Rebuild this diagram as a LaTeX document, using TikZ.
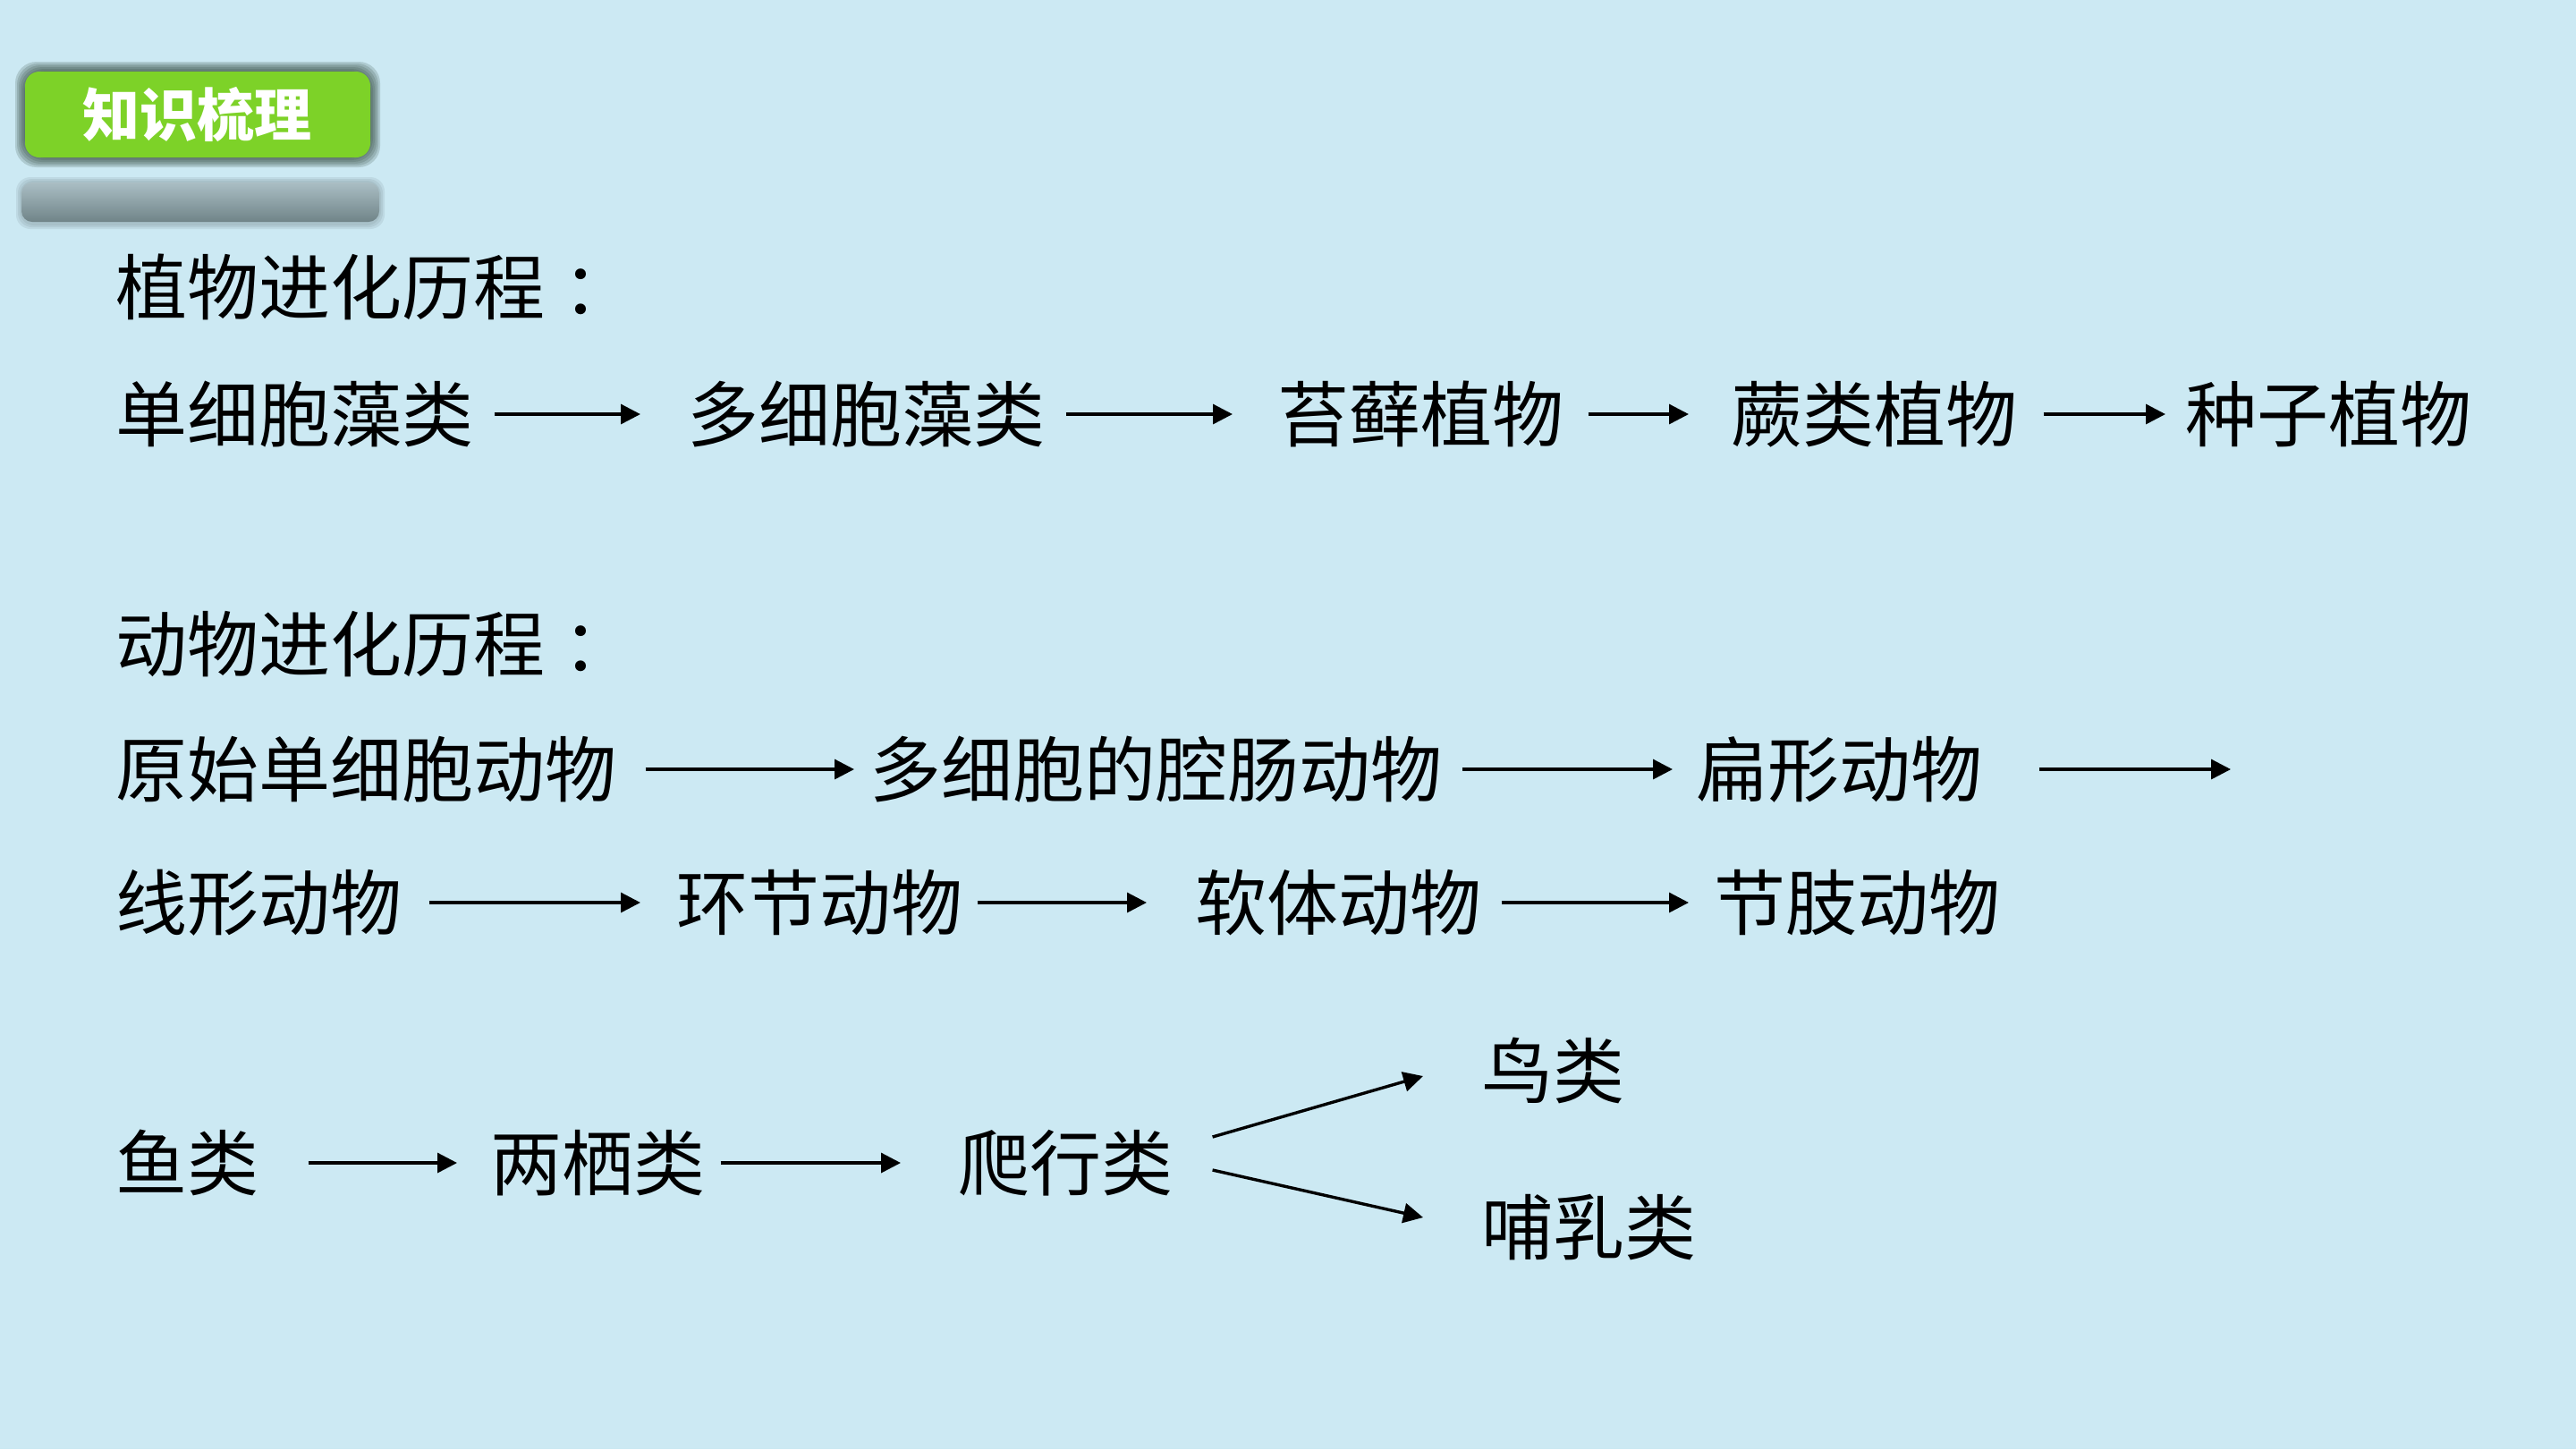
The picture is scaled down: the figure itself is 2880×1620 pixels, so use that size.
\documentclass[tikz,border=0pt]{standalone}
\usepackage{fontspec}
\newfontfamily\cjk{Noto Sans CJK SC}
\usetikzlibrary{arrows.meta,calc}
\definecolor{bg}{RGB}{204,233,243}
\definecolor{badgegreen}{RGB}{125,210,40}
\definecolor{halo}{RGB}{55,80,68}
\definecolor{refltop}{RGB}{170,190,196}
\definecolor{reflbot}{RGB}{112,132,136}
\begin{document}
\begin{tikzpicture}[x=0.25pt,y=-0.25pt,
  txt/.style={anchor=west,inner sep=0pt,font=\cjk\fontsize{20pt}{24pt}\selectfont,text height=17.6pt,text depth=2.4pt},
  arr/.style={line width=0.85pt,-{Triangle[length=5.5pt,width=5.5pt]}},
  badge/.style={fill=badgegreen,rounded corners=4pt,minimum width=96.5pt,minimum height=24pt,inner sep=0pt,
    text=white,font=\cjk\bfseries\fontsize{16pt}{18pt}\selectfont}]
\useasboundingbox (0,0) rectangle (2880,1620);
\fill[bg] (0,0) rectangle (2880,1620);

% badge reflection
\foreach \i in {6,4,2}{
  \fill[reflbot,opacity=0.15,rounded corners=4pt] (24-\i,204-\i) rectangle (424+\i,250+\i);
}
\shade[top color=refltop,bottom color=reflbot,rounded corners=3pt] (24,204) rectangle (424,248);

% badge halo
\foreach \i in {11,9,7,5,3,1}{
  \fill[halo,opacity=0.2,rounded corners=6pt] (28-\i,80-\i) rectangle (414+\i,176+\i);
}
\node[badge] (title) at (221,128) {知识梳理};

% plants
\node[txt] (ph) at (129,321) {植物进化历程\hspace{5pt}：};
\node[txt] (p1) at (129,463) {单细胞藻类};
\node[txt] (p2) at (768,463) {多细胞藻类};
\node[txt] (p3) at (1428,463) {苔藓植物};
\node[txt] (p4) at (1935,463) {蕨类植物};
\node[txt] (p5) at (2443,463) {种子植物};
\draw[arr,shorten <=5.5pt,shorten >=13pt] (p1.east) -- (p2.west);
\draw[arr,shorten <=5.5pt,shorten >=12.5pt] (p2.east) -- (p3.west);
\draw[arr,shorten <=6.5pt,shorten >=11.75pt] (p3.east) -- (p4.west);
\draw[arr,shorten <=7pt,shorten >=5.5pt] (p4.east) -- (p5.west);

% animals
\node[txt] (ah) at (129,720) {动物进化历程\hspace{5pt}：};
\node[txt] (m1) at (129,860) {原始单细胞动物};
\node[txt] (m2) at (972,860) {多细胞的腔肠动物};
\node[txt] (m3) at (1896,860) {扁形动物};
\coordinate (m3end) at (2494,860);
\draw[arr,shorten <=7.75pt,shorten >=4.25pt] (m1.east) -- (m2.west);
\draw[arr,shorten <=5.25pt,shorten >=6.5pt] (m2.east) -- (m3.west);
\draw[arr,shorten <=15.5pt] (m3.east) -- (m3end);

\node[txt] (k1) at (129,1009) {线形动物};
\node[txt] (k2) at (756,1009) {环节动物};
\node[txt] (k3) at (1336,1009) {软体动物};
\node[txt] (k4) at (1916,1009) {节肢动物};
\draw[arr,shorten <=7.25pt,shorten >=10pt] (k1.east) -- (k2.west);
\draw[arr,shorten <=3.75pt,shorten >=13.5pt] (k2.east) -- (k3.west);
\draw[arr,shorten <=5.25pt,shorten >=7pt] (k3.east) -- (k4.west);

\node[txt] (f1) at (129,1300) {鱼类};
\node[txt] (f2) at (548,1300) {两栖类};
\node[txt] (f3) at (1071,1300) {爬行类};
\node[txt] (b1) at (1656,1197) {鸟类};
\node[txt] (b2) at (1656,1372) {哺乳类};
\draw[arr,shorten <=13.5pt,shorten >=9.25pt] (f1.east) -- (f2.west);
\draw[arr,shorten <=4pt,shorten >=16pt] (f2.east) -- (f3.west);
\draw[arr] ($(f3.east)+(43,-29)$) -- ($(b1.west)+(-65,6)$);
\draw[arr] ($(f3.east)+(43,8)$) -- ($(b2.west)+(-65,-11)$);
\end{tikzpicture}
\end{document}
